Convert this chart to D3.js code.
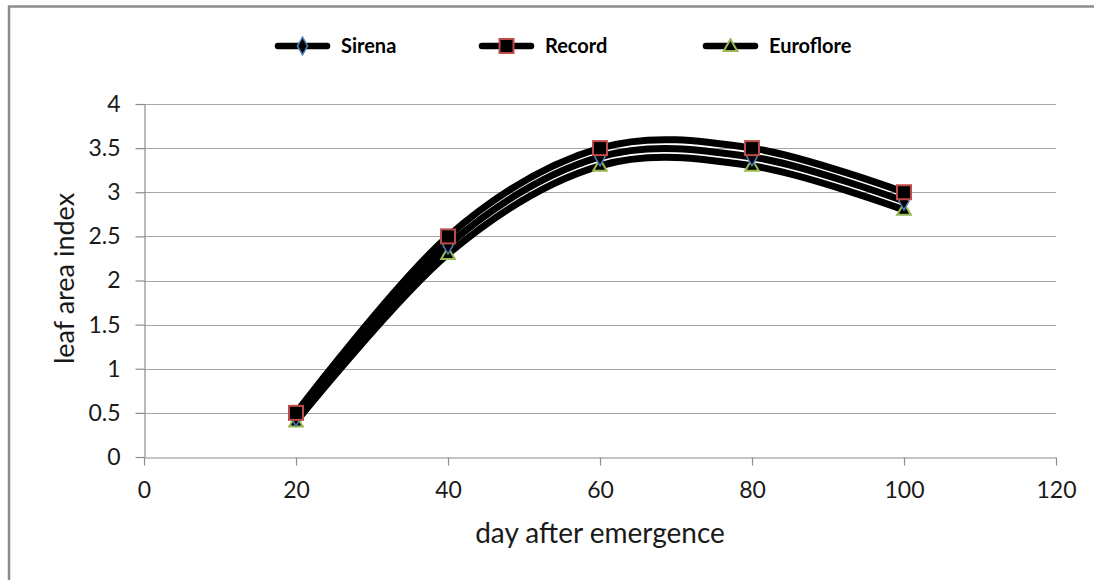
<!DOCTYPE html>
<html>
<head>
<meta charset="utf-8">
<script src="https://cdn.jsdelivr.net/npm/d3@7"></script>
<style>
  body { margin: 0; background: #fff; }
  svg text { font-family: Lato, "Open Sans", sans-serif; }
</style>
</head>
<body>
<div id="chart"></div>
<script>
// data
const days = [20, 40, 60, 80, 100];
const sirena = [0.45, 2.4, 3.4, 3.4, 2.9];
const record = [0.5, 2.5, 3.5, 3.5, 3.0];
const euroflore = [0.4, 2.3, 3.3, 3.3, 2.8];
const seriesNames = ['Sirena', 'Record', 'Euroflore'];
const xTicks = [0, 20, 40, 60, 80, 100, 120];
const yTicks = [0, 0.5, 1, 1.5, 2, 2.5, 3, 3.5, 4];

const W = 1094, H = 580;
const margin = {top: 104, right: 38, bottom: 123, left: 144};

const svg = d3.select('#chart').append('svg')
    .attr('width', W)
    .attr('height', H);

// outer frame (only top and left edges visible in the picture)
svg.append('path')
    .attr('d', `M9,${H} V6.5 H${W}`)
    .attr('fill', 'none')
    .attr('stroke', '#8c8c8c')
    .attr('stroke-width', 2.5);

const xScale = d3.scaleLinear().domain([0, 120]).range([margin.left, W - margin.right]);
const yScale = d3.scaleLinear().domain([0, 4]).range([H - margin.bottom, margin.top]);

// gridlines
svg.append('g')
    .selectAll('line')
    .data(yTicks.slice(1))
    .join('line')
    .attr('x1', xScale(0))
    .attr('x2', xScale(120))
    .attr('y1', d => Math.round(yScale(d)) + 0.5)
    .attr('y2', d => Math.round(yScale(d)) + 0.5)
    .attr('stroke', '#a6a6a6')
    .attr('stroke-width', 1.2);

// axes
let xAxis = svg.append('g')
    .attr('transform', `translate(0, ${Math.round(yScale(0)) + 0.5})`)
    .call(d3.axisBottom(xScale).tickValues(xTicks).tickSize(8).tickPadding(16).tickSizeOuter(0));

let yAxis = svg.append('g')
    .attr('transform', `translate(${Math.round(xScale(0)) + 0.5}, 0)`)
    .call(d3.axisLeft(yScale).tickValues(yTicks).tickSize(9).tickPadding(15).tickSizeOuter(0)
        .tickFormat(d3.format('')));

[xAxis, yAxis].forEach(a => {
    a.select('.domain').attr('stroke', '#8c8c8c').attr('stroke-width', 1.2);
    a.selectAll('.tick line').attr('stroke', '#8c8c8c').attr('stroke-width', 1.2);
    a.selectAll('text').attr('font-size', 23).attr('fill', '#1a1a1a')
        .style('font-family', 'Lato, "Open Sans", sans-serif');
});

// axis titles
svg.append('text')
    .attr('x', xScale(60))
    .attr('y', 543)
    .attr('text-anchor', 'middle')
    .attr('font-size', 28)
    .attr('fill', '#1a1a1a')
    .text('day after emergence');

svg.append('text')
    .attr('transform', `translate(74, ${yScale(2) - 2}) rotate(-90)`)
    .attr('text-anchor', 'middle')
    .attr('font-size', 27)
    .attr('fill', '#1a1a1a')
    .text('leaf area index');

// lines
const line = d3.line()
    .x((d, i) => xScale(days[i]))
    .y(d => yScale(d))
    .curve(d3.curveCardinal.tension(0));

const allSeries = [sirena, record, euroflore];
allSeries.forEach(s => {
    svg.append('path')
        .datum(s)
        .attr('d', line)
        .attr('fill', 'none')
        .attr('stroke', '#000')
        .attr('stroke-width', 7)
        .attr('stroke-linecap', 'round');
});

// markers
const markerFns = [
    (g, x, y) => g.append('path')
        .attr('d', d3.symbol(d3.symbolDiamond, 90)())
        .attr('transform', `translate(${x},${y})`)
        .attr('fill', '#000').attr('stroke', '#4a7ebb').attr('stroke-width', 1.5),
    (g, x, y) => g.append('rect')
        .attr('x', x - 7).attr('y', y - 7).attr('width', 14).attr('height', 14)
        .attr('fill', '#000').attr('stroke', '#be4b48').attr('stroke-width', 2),
    (g, x, y) => g.append('path')
        .attr('d', d3.symbol(d3.symbolTriangle, 80)())
        .attr('transform', `translate(${x},${y + 1})`)
        .attr('fill', '#000').attr('stroke', '#98b954').attr('stroke-width', 2)
];

const markG = svg.append('g');
// draw Euroflore, Sirena then Record so the squares sit on top as in the picture
[2, 0, 1].forEach(k => {
    allSeries[k].forEach((v, i) => markerFns[k](markG, xScale(days[i]), yScale(v)));
});

// legend
const legendX = [275, 479, 703];
const legend = svg.append('g');
seriesNames.forEach((name, k) => {
    const x0 = legendX[k], y0 = 46;
    legend.append('line')
        .attr('x1', x0 + 3).attr('x2', x0 + 52)
        .attr('y1', y0).attr('y2', y0)
        .attr('stroke', '#000').attr('stroke-width', 6.5)
        .attr('stroke-linecap', 'round');
    markerFns[k](legend, x0 + 27.5, y0);
    legend.append('text')
        .attr('x', x0 + 66)
        .attr('y', y0 + 7)
        .attr('font-size', 20)
        .attr('font-weight', 'bold')
        .attr('fill', '#000')
        .text(name);
});
</script>
</body>
</html>
